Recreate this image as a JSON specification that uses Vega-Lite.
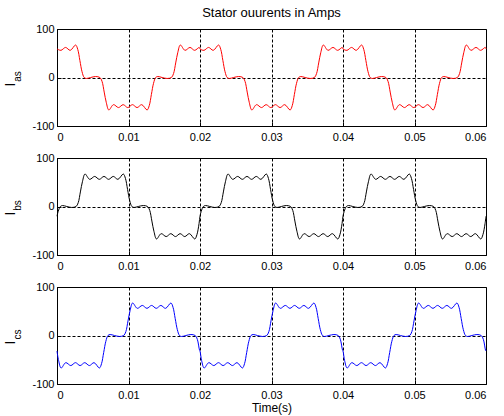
{
  "$schema": "https://vega.github.io/schema/vega-lite/v6.json",
  "background": "white",
  "padding": {"left": 2, "top": 6, "right": 5, "bottom": 2},
  "bounds": "flush",
  "spacing": 32,
  "config": {
    "font": "Liberation Sans",
    "view": {"stroke": "#000000", "strokeWidth": 1},
    "axis": {
      "labelFont": "Liberation Sans", "labelFontSize": 11, "labelColor": "#000000",
      "titleFont": "Liberation Sans", "titleFontWeight": "normal", "titleColor": "#000000",
      "domain": false, "grid": true, "gridColor": "#000000", "gridDash": [3, 2], "gridOpacity": 1, "gridWidth": 1,
      "ticks": true, "tickColor": "#000000", "tickSize": -4
    },
    "title": {"font": "Liberation Sans", "fontWeight": "normal", "fontSize": 13, "color": "#000000"}
  },
  "datasets": {
    "a": [
      {"t":0,"v":59},{"t":0.00055,"v":56},{"t":0.0012,"v":62},{"t":0.00185,"v":56},{"t":0.0026,"v":67},{"t":0.0029,"v":58},{"t":0.0032,"v":35},{"t":0.0035,"v":12},{"t":0.0038,"v":0},{"t":0.0041,"v":-2},{"t":0.0047,"v":0},{"t":0.0054,"v":2},{"t":0.006,"v":0},{"t":0.0063,"v":-8},{"t":0.0066,"v":-30},{"t":0.0069,"v":-52},{"t":0.00725,"v":-67},{"t":0.0079,"v":-56},{"t":0.0086,"v":-62},{"t":0.00925,"v":-56},{"t":0.0099,"v":-62},{"t":0.01055,"v":-56},{"t":0.0112,"v":-62},{"t":0.01185,"v":-56},{"t":0.0126,"v":-67},{"t":0.0129,"v":-58},{"t":0.0132,"v":-35},{"t":0.0135,"v":-12},{"t":0.0138,"v":0},{"t":0.0141,"v":2},{"t":0.0147,"v":0},{"t":0.0154,"v":-2},{"t":0.016,"v":0},{"t":0.0163,"v":8},{"t":0.0166,"v":30},{"t":0.0169,"v":52},{"t":0.01725,"v":67},{"t":0.0179,"v":56},{"t":0.0186,"v":62},{"t":0.01925,"v":56},{"t":0.0199,"v":62},
      {"t":0.02,"v":59},{"t":0.02055,"v":56},{"t":0.0212,"v":62},{"t":0.02185,"v":56},{"t":0.0226,"v":67},{"t":0.0229,"v":58},{"t":0.0232,"v":35},{"t":0.0235,"v":12},{"t":0.0238,"v":0},{"t":0.0241,"v":-2},{"t":0.0247,"v":0},{"t":0.0254,"v":2},{"t":0.026,"v":0},{"t":0.0263,"v":-8},{"t":0.0266,"v":-30},{"t":0.0269,"v":-52},{"t":0.02725,"v":-67},{"t":0.0279,"v":-56},{"t":0.0286,"v":-62},{"t":0.02925,"v":-56},{"t":0.0299,"v":-62},{"t":0.03055,"v":-56},{"t":0.0312,"v":-62},{"t":0.03185,"v":-56},{"t":0.0326,"v":-67},{"t":0.0329,"v":-58},{"t":0.0332,"v":-35},{"t":0.0335,"v":-12},{"t":0.0338,"v":0},{"t":0.0341,"v":2},{"t":0.0347,"v":0},{"t":0.0354,"v":-2},{"t":0.036,"v":0},{"t":0.0363,"v":8},{"t":0.0366,"v":30},{"t":0.0369,"v":52},{"t":0.03725,"v":67},{"t":0.0379,"v":56},{"t":0.0386,"v":62},{"t":0.03925,"v":56},{"t":0.0399,"v":62},
      {"t":0.04,"v":59},{"t":0.04055,"v":56},{"t":0.0412,"v":62},{"t":0.04185,"v":56},{"t":0.0426,"v":67},{"t":0.0429,"v":58},{"t":0.0432,"v":35},{"t":0.0435,"v":12},{"t":0.0438,"v":0},{"t":0.0441,"v":-2},{"t":0.0447,"v":0},{"t":0.0454,"v":2},{"t":0.046,"v":0},{"t":0.0463,"v":-8},{"t":0.0466,"v":-30},{"t":0.0469,"v":-52},{"t":0.04725,"v":-67},{"t":0.0479,"v":-56},{"t":0.0486,"v":-62},{"t":0.04925,"v":-56},{"t":0.0499,"v":-62},{"t":0.05055,"v":-56},{"t":0.0512,"v":-62},{"t":0.05185,"v":-56},{"t":0.0526,"v":-67},{"t":0.0529,"v":-58},{"t":0.0532,"v":-35},{"t":0.0535,"v":-12},{"t":0.0538,"v":0},{"t":0.0541,"v":2},{"t":0.0547,"v":0},{"t":0.0554,"v":-2},{"t":0.056,"v":0},{"t":0.0563,"v":8},{"t":0.0566,"v":30},{"t":0.0569,"v":52},{"t":0.05725,"v":67},{"t":0.0579,"v":56},{"t":0.0586,"v":62},{"t":0.05925,"v":56},{"t":0.0599,"v":62},{"t":0.06,"v":59}
    ],
    "b": [
      {"t":0,"v":-20},{"t":0.00017,"v":-10},{"t":0.00047,"v":0},{"t":0.00077,"v":2},{"t":0.00137,"v":0},{"t":0.00207,"v":-2},{"t":0.00267,"v":0},{"t":0.00297,"v":8},{"t":0.00327,"v":30},{"t":0.00357,"v":52},{"t":0.00392,"v":67},{"t":0.00457,"v":56},{"t":0.00527,"v":62},{"t":0.00592,"v":56},{"t":0.00657,"v":62},{"t":0.00722,"v":56},{"t":0.00787,"v":62},{"t":0.00852,"v":56},{"t":0.00927,"v":67},{"t":0.00957,"v":58},{"t":0.00987,"v":35},{"t":0.01017,"v":12},{"t":0.01047,"v":0},{"t":0.01077,"v":-2},{"t":0.01137,"v":0},{"t":0.01207,"v":2},{"t":0.01267,"v":0},{"t":0.01297,"v":-8},{"t":0.01327,"v":-30},{"t":0.01357,"v":-52},{"t":0.01392,"v":-67},{"t":0.01457,"v":-56},{"t":0.01527,"v":-62},{"t":0.01592,"v":-56},{"t":0.01657,"v":-62},{"t":0.01722,"v":-56},{"t":0.01787,"v":-62},{"t":0.01852,"v":-56},{"t":0.01927,"v":-67},{"t":0.01957,"v":-58},{"t":0.01987,"v":-35},
      {"t":0.02,"v":-20},{"t":0.02017,"v":-10},{"t":0.02047,"v":0},{"t":0.02077,"v":2},{"t":0.02137,"v":0},{"t":0.02207,"v":-2},{"t":0.02267,"v":0},{"t":0.02297,"v":8},{"t":0.02327,"v":30},{"t":0.02357,"v":52},{"t":0.02392,"v":67},{"t":0.02457,"v":56},{"t":0.02527,"v":62},{"t":0.02592,"v":56},{"t":0.02657,"v":62},{"t":0.02722,"v":56},{"t":0.02787,"v":62},{"t":0.02852,"v":56},{"t":0.02927,"v":67},{"t":0.02957,"v":58},{"t":0.02987,"v":35},{"t":0.03017,"v":12},{"t":0.03047,"v":0},{"t":0.03077,"v":-2},{"t":0.03137,"v":0},{"t":0.03207,"v":2},{"t":0.03267,"v":0},{"t":0.03297,"v":-8},{"t":0.03327,"v":-30},{"t":0.03357,"v":-52},{"t":0.03392,"v":-67},{"t":0.03457,"v":-56},{"t":0.03527,"v":-62},{"t":0.03592,"v":-56},{"t":0.03657,"v":-62},{"t":0.03722,"v":-56},{"t":0.03787,"v":-62},{"t":0.03852,"v":-56},{"t":0.03927,"v":-67},{"t":0.03957,"v":-58},{"t":0.03987,"v":-35},
      {"t":0.04,"v":-20},{"t":0.04017,"v":-10},{"t":0.04047,"v":0},{"t":0.04077,"v":2},{"t":0.04137,"v":0},{"t":0.04207,"v":-2},{"t":0.04267,"v":0},{"t":0.04297,"v":8},{"t":0.04327,"v":30},{"t":0.04357,"v":52},{"t":0.04392,"v":67},{"t":0.04457,"v":56},{"t":0.04527,"v":62},{"t":0.04592,"v":56},{"t":0.04657,"v":62},{"t":0.04722,"v":56},{"t":0.04787,"v":62},{"t":0.04852,"v":56},{"t":0.04927,"v":67},{"t":0.04957,"v":58},{"t":0.04987,"v":35},{"t":0.05017,"v":12},{"t":0.05047,"v":0},{"t":0.05077,"v":-2},{"t":0.05137,"v":0},{"t":0.05207,"v":2},{"t":0.05267,"v":0},{"t":0.05297,"v":-8},{"t":0.05327,"v":-30},{"t":0.05357,"v":-52},{"t":0.05392,"v":-67},{"t":0.05457,"v":-56},{"t":0.05527,"v":-62},{"t":0.05592,"v":-56},{"t":0.05657,"v":-62},{"t":0.05722,"v":-56},{"t":0.05787,"v":-62},{"t":0.05852,"v":-56},{"t":0.05927,"v":-67},{"t":0.05957,"v":-58},{"t":0.05987,"v":-35},{"t":0.06,"v":-20}
    ],
    "c": [
      {"t":0,"v":-32},{"t":0.00023,"v":-52},{"t":0.00058,"v":-67},{"t":0.00123,"v":-56},{"t":0.00193,"v":-62},{"t":0.00258,"v":-56},{"t":0.00323,"v":-62},{"t":0.00388,"v":-56},{"t":0.00453,"v":-62},{"t":0.00518,"v":-56},{"t":0.00593,"v":-67},{"t":0.00623,"v":-58},{"t":0.00653,"v":-35},{"t":0.00683,"v":-12},{"t":0.00713,"v":0},{"t":0.00743,"v":2},{"t":0.00803,"v":0},{"t":0.00873,"v":-2},{"t":0.00933,"v":0},{"t":0.00963,"v":8},{"t":0.00993,"v":30},{"t":0.01023,"v":52},{"t":0.01058,"v":67},{"t":0.01123,"v":56},{"t":0.01193,"v":62},{"t":0.01258,"v":56},{"t":0.01323,"v":62},{"t":0.01388,"v":56},{"t":0.01453,"v":62},{"t":0.01518,"v":56},{"t":0.01593,"v":67},{"t":0.01623,"v":58},{"t":0.01653,"v":35},{"t":0.01683,"v":12},{"t":0.01713,"v":0},{"t":0.01743,"v":-2},{"t":0.01803,"v":0},{"t":0.01873,"v":2},{"t":0.01933,"v":0},{"t":0.01963,"v":-8},{"t":0.01993,"v":-30},
      {"t":0.02,"v":-32},{"t":0.02023,"v":-52},{"t":0.02058,"v":-67},{"t":0.02123,"v":-56},{"t":0.02193,"v":-62},{"t":0.02258,"v":-56},{"t":0.02323,"v":-62},{"t":0.02388,"v":-56},{"t":0.02453,"v":-62},{"t":0.02518,"v":-56},{"t":0.02593,"v":-67},{"t":0.02623,"v":-58},{"t":0.02653,"v":-35},{"t":0.02683,"v":-12},{"t":0.02713,"v":0},{"t":0.02743,"v":2},{"t":0.02803,"v":0},{"t":0.02873,"v":-2},{"t":0.02933,"v":0},{"t":0.02963,"v":8},{"t":0.02993,"v":30},{"t":0.03023,"v":52},{"t":0.03058,"v":67},{"t":0.03123,"v":56},{"t":0.03193,"v":62},{"t":0.03258,"v":56},{"t":0.03323,"v":62},{"t":0.03388,"v":56},{"t":0.03453,"v":62},{"t":0.03518,"v":56},{"t":0.03593,"v":67},{"t":0.03623,"v":58},{"t":0.03653,"v":35},{"t":0.03683,"v":12},{"t":0.03713,"v":0},{"t":0.03743,"v":-2},{"t":0.03803,"v":0},{"t":0.03873,"v":2},{"t":0.03933,"v":0},{"t":0.03963,"v":-8},{"t":0.03993,"v":-30},
      {"t":0.04,"v":-32},{"t":0.04023,"v":-52},{"t":0.04058,"v":-67},{"t":0.04123,"v":-56},{"t":0.04193,"v":-62},{"t":0.04258,"v":-56},{"t":0.04323,"v":-62},{"t":0.04388,"v":-56},{"t":0.04453,"v":-62},{"t":0.04518,"v":-56},{"t":0.04593,"v":-67},{"t":0.04623,"v":-58},{"t":0.04653,"v":-35},{"t":0.04683,"v":-12},{"t":0.04713,"v":0},{"t":0.04743,"v":2},{"t":0.04803,"v":0},{"t":0.04873,"v":-2},{"t":0.04933,"v":0},{"t":0.04963,"v":8},{"t":0.04993,"v":30},{"t":0.05023,"v":52},{"t":0.05058,"v":67},{"t":0.05123,"v":56},{"t":0.05193,"v":62},{"t":0.05258,"v":56},{"t":0.05323,"v":62},{"t":0.05388,"v":56},{"t":0.05453,"v":62},{"t":0.05518,"v":56},{"t":0.05593,"v":67},{"t":0.05623,"v":58},{"t":0.05653,"v":35},{"t":0.05683,"v":12},{"t":0.05713,"v":0},{"t":0.05743,"v":-2},{"t":0.05803,"v":0},{"t":0.05873,"v":2},{"t":0.05933,"v":0},{"t":0.05963,"v":-8},{"t":0.05993,"v":-30},{"t":0.06,"v":-32}
    ]
  },
  "vconcat": [
    {
      "width": 429, "height": 97,
      "title": {"text": "Stator ouurents in Amps", "offset": 3, "anchor": "middle"},
      "data": {"name": "a"},
      "layer": [
        {
          "mark": {"type": "line", "color": "#ff0000", "strokeWidth": 1, "interpolate": "catmull-rom"},
          "encoding": {
            "x": {"field": "t", "type": "quantitative", "scale": {"domain": [0, 0.06], "nice": false, "zero": false},
                  "axis": {"values": [0, 0.01, 0.02, 0.03, 0.04, 0.05, 0.06], "format": "~g", "title": null, "labelPadding": 9}},
            "y": {"field": "v", "type": "quantitative", "scale": {"domain": [-100, 100], "nice": false},
                  "axis": {"orient": "left", "values": [-100, 0, 100], "labelExpr": "'' + datum.value", "labelPadding": 7,
                           "title": "I", "titleFontSize": 14, "titleX": -43, "titleY": 55, "titleBaseline": "alphabetic", "titleAngle": -90}}
          }
        },
        {
          "mark": {"type": "line", "strokeOpacity": 0},
          "encoding": {
            "x": {"field": "t", "type": "quantitative"},
            "y": {"field": "v", "type": "quantitative",
                  "axis": {"orient": "left", "domain": false, "ticks": false, "labels": false, "grid": false,
                           "title": "as", "titleFontSize": 10, "titleX": -37, "titleY": 47, "titleBaseline": "alphabetic", "titleAngle": -90}}
          }
        }
      ],
      "resolve": {"axis": {"y": "independent"}}
    },
    {
      "width": 429, "height": 97,
      "data": {"name": "b"},
      "layer": [
        {
          "mark": {"type": "line", "color": "#000000", "strokeWidth": 1, "interpolate": "catmull-rom"},
          "encoding": {
            "x": {"field": "t", "type": "quantitative", "scale": {"domain": [0, 0.06], "nice": false, "zero": false},
                  "axis": {"values": [0, 0.01, 0.02, 0.03, 0.04, 0.05, 0.06], "format": "~g", "title": null, "labelPadding": 9}},
            "y": {"field": "v", "type": "quantitative", "scale": {"domain": [-100, 100], "nice": false},
                  "axis": {"orient": "left", "values": [-100, 0, 100], "labelExpr": "'' + datum.value", "labelPadding": 7,
                           "title": "I", "titleFontSize": 14, "titleX": -43, "titleY": 55, "titleBaseline": "alphabetic", "titleAngle": -90}}
          }
        },
        {
          "mark": {"type": "line", "strokeOpacity": 0},
          "encoding": {
            "x": {"field": "t", "type": "quantitative"},
            "y": {"field": "v", "type": "quantitative",
                  "axis": {"orient": "left", "domain": false, "ticks": false, "labels": false, "grid": false,
                           "title": "bs", "titleFontSize": 10, "titleX": -37, "titleY": 47, "titleBaseline": "alphabetic", "titleAngle": -90}}
          }
        }
      ],
      "resolve": {"axis": {"y": "independent"}}
    },
    {
      "width": 429, "height": 97,
      "data": {"name": "c"},
      "layer": [
        {
          "mark": {"type": "line", "color": "#0000ff", "strokeWidth": 1, "interpolate": "catmull-rom"},
          "encoding": {
            "x": {"field": "t", "type": "quantitative", "scale": {"domain": [0, 0.06], "nice": false, "zero": false},
                  "axis": {"values": [0, 0.01, 0.02, 0.03, 0.04, 0.05, 0.06], "format": "~g", "title": "Time(s)", "titleFontSize": 12, "titlePadding": 2, "labelPadding": 9}},
            "y": {"field": "v", "type": "quantitative", "scale": {"domain": [-100, 100], "nice": false},
                  "axis": {"orient": "left", "values": [-100, 0, 100], "labelExpr": "'' + datum.value", "labelPadding": 7,
                           "title": "I", "titleFontSize": 14, "titleX": -43, "titleY": 55, "titleBaseline": "alphabetic", "titleAngle": -90}}
          }
        },
        {
          "mark": {"type": "line", "strokeOpacity": 0},
          "encoding": {
            "x": {"field": "t", "type": "quantitative"},
            "y": {"field": "v", "type": "quantitative",
                  "axis": {"orient": "left", "domain": false, "ticks": false, "labels": false, "grid": false,
                           "title": "cs", "titleFontSize": 10, "titleX": -37, "titleY": 47, "titleBaseline": "alphabetic", "titleAngle": -90}}
          }
        }
      ],
      "resolve": {"axis": {"y": "independent"}}
    }
  ]
}
